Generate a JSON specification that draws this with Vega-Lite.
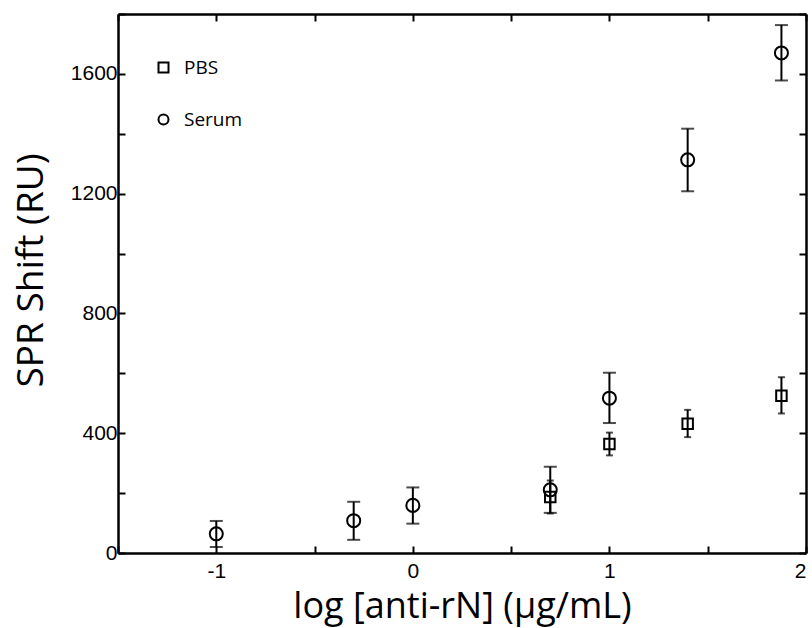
{
  "$schema": "https://vega.github.io/schema/vega-lite/v6.json",
  "width": 688,
  "height": 539,
  "autosize": {"type": "none"},
  "padding": {"left": 118, "top": 14, "right": 6, "bottom": 75},
  "background": "white",
  "data": {
    "values": [
      {"series": "PBS", "logc": 0.699, "ru": 187, "lo": 132, "hi": 242},
      {"series": "PBS", "logc": 1.0, "ru": 364, "lo": 326, "hi": 402},
      {"series": "PBS", "logc": 1.398, "ru": 432, "lo": 387, "hi": 478},
      {"series": "PBS", "logc": 1.875, "ru": 525, "lo": 466, "hi": 587},
      {"series": "Serum", "logc": -1.0, "ru": 64, "lo": 20, "hi": 107},
      {"series": "Serum", "logc": -0.301, "ru": 108, "lo": 44, "hi": 171},
      {"series": "Serum", "logc": 0.0, "ru": 159, "lo": 98, "hi": 219},
      {"series": "Serum", "logc": 0.699, "ru": 211, "lo": 134, "hi": 288},
      {"series": "Serum", "logc": 1.0, "ru": 517, "lo": 434, "hi": 602},
      {"series": "Serum", "logc": 1.398, "ru": 1313, "lo": 1208, "hi": 1417},
      {"series": "Serum", "logc": 1.875, "ru": 1670, "lo": 1578, "hi": 1763}
    ]
  },
  "config": {
    "view": {"stroke": null},
    "axis": {
      "domainColor": "black",
      "domainWidth": 2.5,
      "tickColor": "black",
      "tickWidth": 2,
      "tickSize": -7,
      "labelColor": "black",
      "labelFont": "Liberation Sans",
      "labelFontSize": 21,
      "grid": false,
      "titleColor": "black",
      "titleFont": "Open Sans",
      "titleFontWeight": "normal"
    }
  },
  "layer": [
    {
      "mark": {"type": "rule", "strokeWidth": 2, "color": "black"},
      "encoding": {
        "x": {
          "field": "logc", "type": "quantitative",
          "scale": {"domain": [-1.5, 2], "nice": false, "zero": false},
          "axis": {
            "orient": "bottom",
            "values": [-1.5, -1, -0.5, 0, 0.5, 1, 1.5, 2],
            "labelExpr": "datum.value % 1 == 0 ? '' + datum.value : ''",
            "labelPadding": 14,
            "title": "log [anti-rN] (µg/mL)",
            "titleFontSize": 36,
            "titleBaseline": "alphabetic",
            "titleY": 64
          }
        },
        "y": {
          "field": "lo", "type": "quantitative",
          "scale": {"domain": [0, 1800], "nice": false},
          "axis": {
            "orient": "left",
            "values": [0, 200, 400, 600, 800, 1000, 1200, 1400, 1600, 1800],
            "labelExpr": "datum.value % 400 == 0 ? '' + datum.value : ''",
            "labelPadding": 8,
            "title": "SPR Shift (RU)",
            "titleFontSize": 37,
            "titleBaseline": "middle",
            "titleX": -87,
            "titleY": 256
          }
        },
        "y2": {"field": "hi"}
      }
    },
    {
      "transform": [
        {"filter": "datum.series == 'Serum'"},
        {"fold": ["lo", "hi"], "as": ["bound", "cap"]}
      ],
      "mark": {"type": "tick", "orient": "horizontal", "thickness": 2, "size": 13, "color": "black"},
      "encoding": {
        "x": {
          "field": "logc", "type": "quantitative",
          "axis": {
            "orient": "top",
            "values": [-1.5, -1, -0.5, 0, 0.5, 1, 1.5, 2],
            "labels": false,
            "title": null
          }
        },
        "y": {
          "field": "cap", "type": "quantitative",
          "axis": {
            "orient": "right",
            "values": [0, 200, 400, 600, 800, 1000, 1200, 1400, 1600, 1800],
            "labels": false,
            "title": null
          }
        }
      }
    },
    {
      "transform": [
        {"filter": "datum.series == 'PBS'"},
        {"fold": ["lo", "hi"], "as": ["bound", "cap"]}
      ],
      "mark": {"type": "tick", "orient": "horizontal", "thickness": 2, "size": 7, "color": "black"},
      "encoding": {
        "x": {"field": "logc", "type": "quantitative", "axis": null},
        "y": {"field": "cap", "type": "quantitative", "axis": null}
      }
    },
    {
      "transform": [{"filter": "datum.series == 'PBS'"}],
      "mark": {"type": "point", "filled": false, "strokeWidth": 2, "color": "black", "opacity": 1, "size": 110},
      "encoding": {
        "x": {"field": "logc", "type": "quantitative", "axis": null},
        "y": {"field": "ru", "type": "quantitative", "axis": null},
        "shape": {
          "field": "series", "type": "nominal",
          "scale": {"domain": ["PBS", "Serum"], "range": ["square", "circle"]},
          "legend": {
            "orient": "none",
            "legendX": 36,
            "legendY": 44,
            "title": null,
            "padding": 0,
            "symbolSize": 100,
            "symbolStrokeWidth": 2,
            "symbolStrokeColor": "black",
            "symbolFillColor": "white",
            "labelFont": "Open Sans",
            "labelFontSize": 19,
            "labelColor": "black",
            "labelOffset": 11,
            "rowPadding": 32
          }
        }
      }
    },
    {
      "transform": [{"filter": "datum.series == 'Serum'"}],
      "mark": {"type": "point", "filled": false, "strokeWidth": 2, "color": "black", "opacity": 1, "size": 170},
      "encoding": {
        "x": {"field": "logc", "type": "quantitative", "axis": null},
        "y": {"field": "ru", "type": "quantitative", "axis": null},
        "shape": {"field": "series", "type": "nominal"}
      }
    }
  ],
  "resolve": {"axis": {"x": "independent", "y": "independent"}}
}
